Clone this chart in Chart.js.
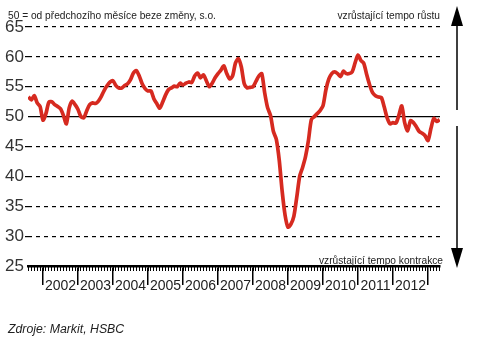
<!DOCTYPE html>
<html>
<head>
<meta charset="utf-8">
<script src="https://cdn.jsdelivr.net/npm/chart.js@4/dist/chart.umd.min.js"></script>
<style>
  html, body { margin: 0; padding: 0; background: #fff; }
  #wrap { position: relative; width: 478px; height: 338px; overflow: hidden; }
  canvas { position: absolute; left: 0; top: 0; }
  .lbl { position: absolute; font-family: "Liberation Sans", Arial, sans-serif; color: #222; white-space: nowrap; line-height: 1; }
</style>
</head>
<body>
<div id="wrap">
  <canvas id="c" width="478" height="338"></canvas>
  <div class="lbl" id="note" style="left:8px; top:11px; font-size:10.2px;">50 = od předchozího měsíce beze změny, s.o.</div>
  <div class="lbl" id="up" style="right:38px; top:11px; font-size:10.2px;">vzrůstající tempo růstu</div>
  <div class="lbl" id="down" style="right:35px; top:256px; font-size:10.2px;">vzrůstající tempo kontrakce</div>
  <div class="lbl" id="src" style="left:8px; top:323px; font-size:12.3px; font-style:italic;">Zdroje: Markit, HSBC</div>
</div>
<script>
// Manufacturing PMI, monthly, seasonally adjusted (50 = no change)
const firstYear = 2001;
const firstMonth = 8; // series starts in August 2001
const pmi2001 = [53.3, 52.8, 53.5, 52.3, 51.7];
const pmi2002 = [49.4, 50.5, 52.4, 52.5, 52.0, 51.7, 51.3, 50.2, 48.8, 51.5, 52.6, 52.0];
const pmi2003 = [51.2, 50.0, 49.8, 51.0, 52.0, 52.3, 52.2, 52.6, 53.4, 54.4, 55.2, 55.8];
const pmi2004 = [56.0, 55.2, 54.8, 54.8, 55.2, 55.5, 56.2, 57.3, 57.7, 56.8, 55.5, 54.7];
const pmi2005 = [54.3, 54.3, 53.0, 52.2, 51.4, 52.4, 53.6, 54.5, 54.8, 55.1, 55.0, 55.6];
const pmi2006 = [55.3, 55.6, 55.8, 55.7, 56.8, 57.3, 56.5, 57.0, 56.0, 55.0, 55.6, 56.5];
const pmi2007 = [57.2, 57.8, 58.5, 57.2, 56.3, 56.8, 59.0, 59.7, 58.3, 55.5, 54.8, 54.9];
const pmi2008 = [55.0, 55.9, 56.8, 57.2, 54.0, 51.5, 50.2, 47.5, 46.2, 42.7, 37.5, 33.5];
const pmi2009 = [31.5, 32.0, 33.3, 36.5, 40.0, 41.5, 43.3, 46.0, 49.5, 50.0, 50.5, 51.0];
const pmi2010 = [51.8, 54.5, 56.3, 57.2, 57.5, 57.2, 56.7, 57.6, 57.2, 57.2, 57.5, 59.0];
const pmi2011 = [60.3, 59.4, 58.9, 57.0, 55.3, 54.0, 53.5, 53.3, 53.2, 51.6, 49.8, 48.8];
const pmi2012 = [49.0, 48.9, 50.2, 51.8, 49.0, 47.6, 49.3, 49.0, 48.3, 47.5, 47.2, 46.8];
const pmi2013 = [46.0, 48.0, 49.7, 49.2, 49.5];

const yearLabels = ['2002', '2003', '2004', '2005', '2006', '2007', '2008', '2009', '2010', '2011', '2012'];
const yTicks = [25, 30, 35, 40, 45, 50, 55, 60, 65];
const neutralLevel = 50;

const allValues = [].concat(pmi2001, pmi2002, pmi2003, pmi2004, pmi2005, pmi2006, pmi2007,
                            pmi2008, pmi2009, pmi2010, pmi2011, pmi2012, pmi2013);

// month -> decimal year on the time axis
const points = allValues.map((v, i) => {
  const mIdx = (firstMonth - 1) + i;
  return { x: firstYear + mIdx / 12, y: v };
});

const xMin = 2001.571;
const xMax = 2013.343;

const monthTicks = [];
for (let i = 0; i < 12 * 13; i++) {
  const t = firstYear + i / 12;
  if (t >= xMin && t <= xMax) monthTicks.push(t);
}
const yearTicks = yearLabels.map(Number).concat([Number(yearLabels[yearLabels.length - 1]) + 1]);

const arrowPlugin = {
  id: 'rangeArrow',
  afterDraw(chart) {
    const ctx = chart.ctx;
    const x = 457;
    ctx.save();
    ctx.strokeStyle = '#000';
    ctx.fillStyle = '#000';
    ctx.lineWidth = 1.5;
    ctx.beginPath();
    ctx.moveTo(x, 24); ctx.lineTo(x, 110);
    ctx.moveTo(x, 126); ctx.lineTo(x, 250);
    ctx.stroke();
    ctx.beginPath();
    ctx.moveTo(x, 6); ctx.lineTo(x - 6, 26); ctx.lineTo(x + 6, 26); ctx.closePath();
    ctx.fill();
    ctx.beginPath();
    ctx.moveTo(x, 268); ctx.lineTo(x - 6, 248); ctx.lineTo(x + 6, 248); ctx.closePath();
    ctx.fill();
    ctx.restore();
  }
};

new Chart(document.getElementById('c'), {
  type: 'line',
  data: {
    datasets: [
      {
        label: 'PMI',
        data: points,
        borderColor: '#d62a20',
        borderWidth: 3.7,
        pointRadius: 0,
        tension: 0.25,
        fill: false,
        order: 0
      },
      {
        label: 'neutral',
        data: [{ x: xMin, y: neutralLevel }, { x: xMax, y: neutralLevel }],
        borderColor: '#000',
        borderWidth: 1.3,
        pointRadius: 0,
        fill: false,
        order: 1
      }
    ]
  },
  options: {
    responsive: false,
    animation: false,
    events: [],
    layout: { padding: { left: 0, right: 38, top: 27, bottom: 0 } },
    plugins: { legend: { display: false }, tooltip: { enabled: false } },
    scales: {
      x: {
        type: 'linear',
        position: 'bottom',
        min: xMin,
        max: xMax,
        afterBuildTicks: (s) => { s.ticks = yearTicks.map(v => ({ value: v })); },
        afterFit: (s) => { s.height = 72; s.paddingLeft = 0; s.paddingRight = 0; },
        grid: { drawOnChartArea: false, tickLength: 19, color: '#000', lineWidth: 1.5 },
        border: { display: true, color: '#000', width: 2.5 },
        ticks: {
          autoSkip: false,
          maxRotation: 0,
          padding: -7,
          labelOffset: 17.5,
          color: '#222',
          font: { family: '"Liberation Sans", Arial, sans-serif', size: 14 },
          callback: (v) => {
            const lab = String(Math.round(v));
            return yearLabels.includes(lab) ? lab : '';
          }
        }
      },
      xm: {
        type: 'linear',
        position: { y: 25 },
        min: xMin,
        max: xMax,
        afterBuildTicks: (s) => { s.ticks = monthTicks.map(v => ({ value: v })); },
        grid: { drawOnChartArea: false, tickLength: 5, color: '#000', lineWidth: 1 },
        border: { display: false },
        ticks: { display: false }
      },
      y: {
        min: 25,
        max: 65,
        afterBuildTicks: (s) => { s.ticks = yTicks.map(v => ({ value: v })); },
        afterFit: (s) => { s.width = 28; s.paddingTop = 0; s.paddingBottom = 0; },
        grid: {
          color: (c) => (c.tick && (c.tick.value === 25 || c.tick.value === 50)) ? 'rgba(0,0,0,0)' : '#000',
          lineWidth: 1.2,
          drawTicks: true,
          tickLength: 3
        },
        border: { display: false, dash: [4, 4] },
        ticks: {
          padding: 1,
          color: '#333',
          font: { family: '"Liberation Sans", Arial, sans-serif', size: 17 }
        }
      }
    }
  },
  plugins: [arrowPlugin]
});
</script>
</body>
</html>
